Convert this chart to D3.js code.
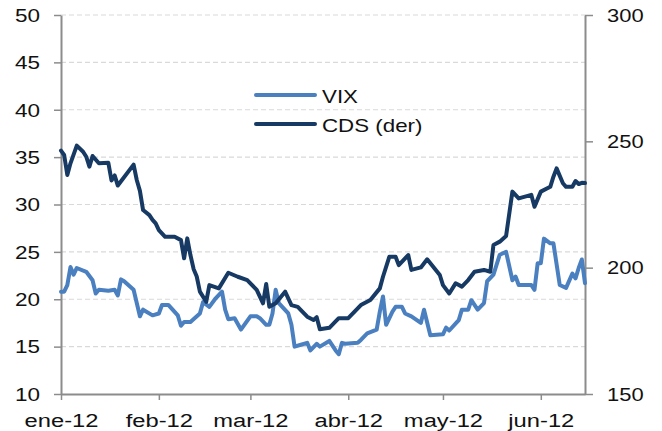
<!DOCTYPE html>
<html>
<head>
<meta charset="utf-8">
<script src="https://cdn.jsdelivr.net/npm/d3@7"></script>
<style>
  body { margin: 0; background: #fff; }
  text { font-family: "Liberation Sans", Arial, sans-serif; fill: #111; }
</style>
</head>
<body>
<div id="chart"></div>
<script>
const width = 662;
const height = 431;

// Data
const vixDates = ["2012-01-02","2012-01-03","2012-01-04","2012-01-05","2012-01-06","2012-01-07","2012-01-10","2012-01-12","2012-01-13","2012-01-14",
  "2012-01-17","2012-01-19","2012-01-20","2012-01-21","2012-01-22","2012-01-25","2012-01-27","2012-01-28","2012-01-31",
  "2012-02-02","2012-02-03","2012-02-05","2012-02-08","2012-02-09","2012-02-10","2012-02-12","2012-02-15","2012-02-16","2012-02-18",
  "2012-02-20","2012-02-22","2012-02-23","2012-02-24","2012-02-26","2012-02-28",
  "2012-03-02","2012-03-04","2012-03-05","2012-03-07","2012-03-08","2012-03-09","2012-03-10","2012-03-11","2012-03-14","2012-03-15",
  "2012-03-16","2012-03-18","2012-03-20","2012-03-21","2012-03-23","2012-03-24","2012-03-27","2012-03-29","2012-03-30","2012-03-31",
  "2012-04-01","2012-04-05","2012-04-06","2012-04-08","2012-04-11","2012-04-12","2012-04-13","2012-04-14","2012-04-16","2012-04-17",
  "2012-04-19","2012-04-20","2012-04-22","2012-04-25","2012-04-26","2012-04-28",
  "2012-05-02","2012-05-03","2012-05-04","2012-05-07","2012-05-08","2012-05-10","2012-05-11","2012-05-13","2012-05-15","2012-05-16",
  "2012-05-18","2012-05-20","2012-05-22","2012-05-24","2012-05-25","2012-05-26","2012-05-30","2012-05-31",
  "2012-06-01","2012-06-02","2012-06-03","2012-06-05","2012-06-06","2012-06-08","2012-06-10","2012-06-12","2012-06-13","2012-06-14",
  "2012-06-15","2012-06-16"];
const vixValues = [20.8,20.8,21.5,23.4,22.6,23.3,22.9,22.0,20.6,21.0,
  20.9,21.0,20.4,22.1,21.9,21.0,18.2,18.9,18.3,
  18.5,19.4,19.4,18.3,17.2,17.6,17.6,18.5,19.7,19.2,
  20.1,20.8,18.9,17.9,18.0,16.8,
  18.2,18.2,18.0,17.3,17.3,18.5,21.0,19.6,18.5,17.3,
  15.0,15.2,15.4,14.6,15.3,15.0,15.6,14.6,14.2,15.4,
  15.3,15.4,15.7,16.4,16.8,18.7,20.3,17.3,18.7,19.2,
  19.2,18.5,18.2,17.5,18.9,16.2,
  16.3,17.0,16.7,17.8,18.9,18.9,19.9,18.9,19.6,21.9,
  22.6,24.7,25.0,22.0,22.4,21.5,21.5,21.0,
  23.8,23.8,26.4,25.9,25.9,21.5,21.2,22.7,22.2,23.3,
  24.2,21.7];

const cdsDates = ["2012-01-02","2012-01-03","2012-01-04","2012-01-05","2012-01-07","2012-01-09","2012-01-10","2012-01-11","2012-01-12","2012-01-14",
  "2012-01-17","2012-01-18","2012-01-19","2012-01-20","2012-01-25","2012-01-26","2012-01-27","2012-01-28","2012-01-30","2012-01-31",
  "2012-02-01","2012-02-02","2012-02-04","2012-02-07","2012-02-09","2012-02-10","2012-02-11","2012-02-12","2012-02-13","2012-02-14",
  "2012-02-15","2012-02-17","2012-02-18","2012-02-21","2012-02-24","2012-02-27",
  "2012-03-01","2012-03-04","2012-03-06","2012-03-07","2012-03-08","2012-03-10","2012-03-13","2012-03-15","2012-03-17","2012-03-20",
  "2012-03-22","2012-03-23","2012-03-24","2012-03-27","2012-03-30",
  "2012-04-02","2012-04-04","2012-04-06","2012-04-09","2012-04-12","2012-04-13","2012-04-15","2012-04-17","2012-04-18","2012-04-21",
  "2012-04-22","2012-04-25","2012-04-27",
  "2012-05-01","2012-05-02","2012-05-04","2012-05-06","2012-05-08","2012-05-10","2012-05-12","2012-05-15","2012-05-17","2012-05-18",
  "2012-05-20","2012-05-22","2012-05-24","2012-05-26","2012-05-30","2012-05-31",
  "2012-06-02","2012-06-05","2012-06-06","2012-06-07","2012-06-09","2012-06-10","2012-06-12","2012-06-13","2012-06-14","2012-06-15",
  "2012-06-16"];
const cdsValues = [246.3,244.6,236.7,241.3,248.3,245.9,243.9,240.0,244.2,241.3,
  241.5,234.5,236.5,232.5,240.8,234.7,230.4,222.8,220.8,218.9,
  217.5,214.9,212.2,212.2,210.9,203.7,211.6,205.0,199.5,196.5,
  190.5,186.5,193.1,191.8,198.0,196.4,
  195.1,191.2,185.9,193.5,184.5,185.9,190.5,185.2,184.5,180.6,
  179.3,180.4,175.6,176.2,180.0,
  180.0,182.6,185.2,187.2,191.8,196.4,204.3,204.3,201.0,205.0,
  199.1,200.1,203.3,
  197.1,193.1,189.8,193.8,192.5,195.1,198.4,199.1,198.4,209.0,
  210.3,212.5,230.1,227.4,228.8,224.1,
  230.1,232.0,236.0,239.3,233.4,232.0,232.0,234.3,233.1,233.6,
  233.5];

const leftTicks = [10, 15, 20, 25, 30, 35, 40, 45, 50];
const rightTicks = [150, 200, 250, 300];
const monthTicks = ["2012-01-02","2012-02-02","2012-03-02","2012-04-02","2012-05-02","2012-06-02"];
const monthLabels = ["ene-12","feb-12","mar-12","abr-12","may-12","jun-12"];

// Colors
const vixColor = "#4a7fc0";
const cdsColor = "#173a64";
const axisColor = "#8c8c8c";
const gridColor = "#d9d9d9";

const parse = d3.timeParse("%Y-%m-%d");
const vix = vixDates.map((d, i) => ({date: parse(d), v: vixValues[i]}));
const cds = cdsDates.map((d, i) => ({date: parse(d), v: cdsValues[i]}));

// Scales
const x = d3.scaleTime().domain([parse("2012-01-02"), parse("2012-06-16")]).range([61, 585]);
const yL = d3.scaleLinear().domain([10, 50]).range([394, 15]);
const yR = d3.scaleLinear().domain([150, 300]).range([394, 15]);

const svg = d3.select("#chart").append("svg")
    .attr("width", width)
    .attr("height", height);

// Gridlines
svg.append("g")
    .selectAll("line")
    .data(leftTicks.slice(1))
    .enter()
    .append("line")
    .attr("x1", 61)
    .attr("x2", 585)
    .attr("y1", d => yL(d))
    .attr("y2", d => yL(d))
    .attr("stroke", gridColor)
    .attr("stroke-width", 1.2)
    .attr("stroke-dasharray", "5,3");

// Axes
function styleAxis(g) {
    g.select(".domain").attr("stroke", axisColor).attr("stroke-width", 2);
    g.selectAll(".tick line").attr("stroke", axisColor).attr("stroke-width", 1.5);
    g.selectAll(".tick text")
        .attr("font-size", 18)
        .attr("font-family", "Liberation Sans, Arial, sans-serif")
        .attr("fill", "#111");
}

const gx = svg.append("g")
    .attr("transform", "translate(0,394)")
    .call(d3.axisBottom(x)
        .tickValues(monthTicks.map(parse))
        .tickFormat((d, i) => monthLabels[i])
        .tickSize(6)
        .tickSizeOuter(0));
styleAxis(gx);
gx.selectAll(".tick text")
    .attr("y", 33)
    .attr("dy", 0)
    .attr("transform", "scale(1.32,1)")
    .attr("x", 0);

const gl = svg.append("g")
    .attr("transform", "translate(61,0)")
    .call(d3.axisLeft(yL).tickValues(leftTicks).tickSize(7).tickSizeOuter(0));
styleAxis(gl);
gl.selectAll(".tick text")
    .attr("x", 0)
    .attr("dy", "0.35em")
    .attr("transform", "translate(-21,0) scale(1.25,1)");

const gr = svg.append("g")
    .attr("transform", "translate(585,0)")
    .call(d3.axisRight(yR).tickValues(rightTicks).tickSize(8).tickSizeOuter(0));
styleAxis(gr);
gr.selectAll(".tick text")
    .attr("x", 0)
    .attr("dy", "0.35em")
    .attr("transform", "translate(22,0) scale(1.22,1)");

// Lines
const lineL = d3.line().x(d => x(d.date)).y(d => yL(d.v));
const lineR = d3.line().x(d => x(d.date)).y(d => yR(d.v));

svg.append("path")
    .datum(vix)
    .attr("d", lineL)
    .attr("fill", "none")
    .attr("stroke", vixColor)
    .attr("stroke-width", 4)
    .attr("stroke-linejoin", "round")
    .attr("stroke-linecap", "round");

svg.append("path")
    .datum(cds)
    .attr("d", lineR)
    .attr("fill", "none")
    .attr("stroke", cdsColor)
    .attr("stroke-width", 4)
    .attr("stroke-linejoin", "round")
    .attr("stroke-linecap", "round");

// Legend
const legend = [
    {name: "VIX", color: vixColor, y: 95},
    {name: "CDS (der)", color: cdsColor, y: 124}
];
const lg = svg.append("g");
lg.selectAll("line")
    .data(legend)
    .enter()
    .append("line")
    .attr("x1", 256)
    .attr("x2", 315)
    .attr("y1", d => d.y)
    .attr("y2", d => d.y)
    .attr("stroke", d => d.color)
    .attr("stroke-width", 4)
    .attr("stroke-linecap", "round");
lg.selectAll("text")
    .data(legend)
    .enter()
    .append("text")
    .attr("transform", d => "translate(322," + (d.y + 7.5) + ") scale(1.24,1)")
    .attr("font-size", 18)
    .text(d => d.name);
</script>
</body>
</html>
